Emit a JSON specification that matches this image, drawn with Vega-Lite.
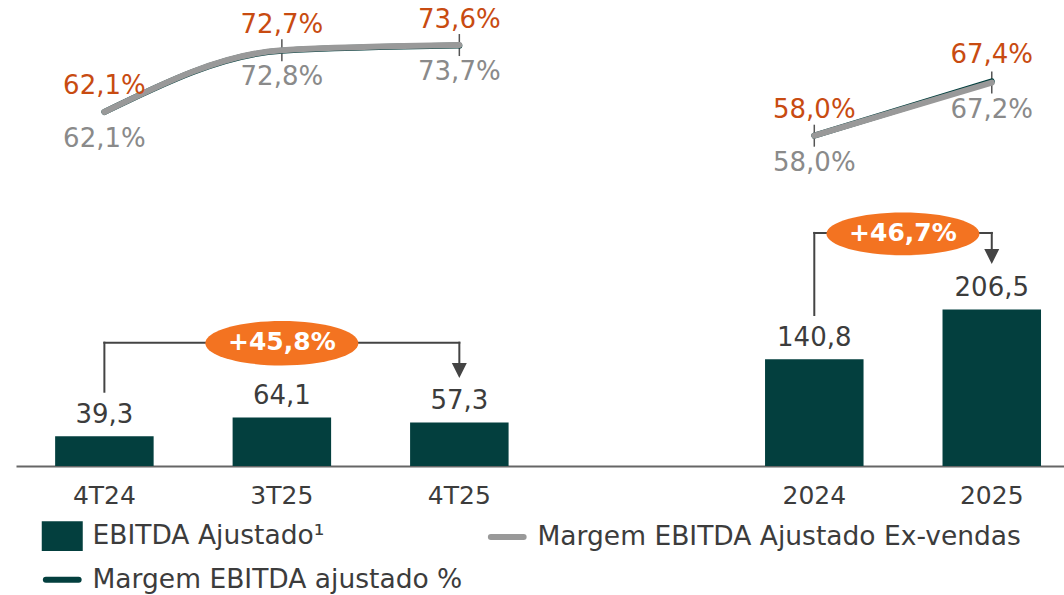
{
  "$schema": "https://vega.github.io/schema/vega-lite/v6.json",
  "width": 1048,
  "height": 466,
  "autosize": {"type": "none"},
  "padding": {"left": 16, "top": 0, "right": 0, "bottom": 129},
  "background": "white",
  "config": {
    "view": {"stroke": null},
    "font": "DejaVu Sans",
    "locale": {"number": {"decimal": ",", "thousands": ".", "grouping": [3], "currency": ["R$ ", ""]}}
  },
  "datasets": {
    "bars": [
      {"cat": "4T24", "series": "EBITDA Ajustado¹", "ebitda": 39.3},
      {"cat": "3T25", "series": "EBITDA Ajustado¹", "ebitda": 64.1},
      {"cat": "4T25", "series": "EBITDA Ajustado¹", "ebitda": 57.3},
      {"cat": "2024", "series": "EBITDA Ajustado¹", "ebitda": 140.8},
      {"cat": "2025", "series": "EBITDA Ajustado¹", "ebitda": 206.5}
    ],
    "margins": [
      {"cat": "4T24", "grp": "Q", "series": "Margem EBITDA ajustado %", "m": 0.621},
      {"cat": "3T25", "grp": "Q", "series": "Margem EBITDA ajustado %", "m": 0.727},
      {"cat": "4T25", "grp": "Q", "series": "Margem EBITDA ajustado %", "m": 0.736},
      {"cat": "2024", "grp": "A", "series": "Margem EBITDA ajustado %", "m": 0.580},
      {"cat": "2025", "grp": "A", "series": "Margem EBITDA ajustado %", "m": 0.674},
      {"cat": "4T24", "grp": "Q", "series": "Margem EBITDA Ajustado Ex-vendas", "m": 0.621},
      {"cat": "3T25", "grp": "Q", "series": "Margem EBITDA Ajustado Ex-vendas", "m": 0.728},
      {"cat": "4T25", "grp": "Q", "series": "Margem EBITDA Ajustado Ex-vendas", "m": 0.737},
      {"cat": "2024", "grp": "A", "series": "Margem EBITDA Ajustado Ex-vendas", "m": 0.580},
      {"cat": "2025", "grp": "A", "series": "Margem EBITDA Ajustado Ex-vendas", "m": 0.672}
    ],
    "brackets_v": [
      {"cat": "4T24", "y1": 98.0, "y2": 162.7},
      {"cat": "4T25", "y1": 162.7, "y2": 130},
      {"cat": "2024", "y1": 199.2, "y2": 307.5},
      {"cat": "2025", "y1": 307.5, "y2": 280}
    ],
    "brackets_h": [
      {"cat": "4T24", "cat2": "4T25", "y": 162.7},
      {"cat": "2024", "cat2": "2025", "y": 307.5}
    ],
    "arrows": [
      {"cat": "4T25", "y": 126.0},
      {"cat": "2025", "y": 276.4}
    ],
    "badges": [
      {"grp": "Q", "cat": "3T25", "y": 162.0, "label": "+45,8%"},
      {"grp": "A", "cat": "2024", "y": 306.3, "label": "+46,7%"}
    ]
  },
  "encoding": {
    "x": {
      "field": "cat",
      "type": "nominal",
      "title": null,
      "scale": {
        "domain": ["4T24", "3T25", "4T25", "gap", "2024", "2025"],
        "paddingInner": 0.445,
        "paddingOuter": 0.175,
        "align": 0.63
      },
      "axis": {
        "domainColor": "#666666",
        "domainWidth": 2,
        "ticks": false,
        "tickSize": 0,
        "grid": false,
        "labelPadding": 17.5,
        "labelFont": "DejaVu Sans",
        "labelFontSize": 25,
        "labelColor": "#3c3c3c",
        "labelAngle": 0,
        "labelExpr": "datum.value == 'gap' ? '' : datum.value"
      }
    }
  },
  "resolve": {"scale": {"y": "independent"}},
  "layer": [
    {
      "data": {"name": "bars"},
      "mark": {"type": "bar"},
      "encoding": {
        "y": {"field": "ebitda", "type": "quantitative", "scale": {"domain": [0, 614.8]}, "axis": null},
        "color": {
          "field": "series",
          "type": "nominal",
          "scale": {
            "domain": ["EBITDA Ajustado¹", "Margem EBITDA ajustado %", "Margem EBITDA Ajustado Ex-vendas"],
            "range": ["#033f3e", "#033f3e", "#999999"]
          },
          "legend": {
            "orient": "none",
            "legendX": 33,
            "legendY": 522.5,
            "columns": 2,
            "title": null,
            "padding": 0,
            "symbolSize": 1681,
            "symbolStrokeWidth": 0,
            "labelFont": "DejaVu Sans",
            "labelFontSize": 26.5,
            "labelColor": "#3c3c3c",
            "labelOffset": 17,
            "labelLimit": 700,
            "rowPadding": 15,
            "columnPadding": 15,
            "encode": {
              "symbols": {
                "update": {
                  "shape": {"signal": "datum.value === 'EBITDA Ajustado¹' ? 'M-1,-0.73L1,-0.73L1,0.73L-1,0.73Z' : 'M-0.8,0L0.8,0'"},
                  "fill": {"signal": "datum.value === 'EBITDA Ajustado¹' ? '#033f3e' : 'transparent'"},
                  "stroke": {"signal": "datum.value === 'Margem EBITDA Ajustado Ex-vendas' ? '#999999' : '#033f3e'"},
                  "strokeWidth": {"signal": "datum.value === 'EBITDA Ajustado¹' ? 0 : 6"},
                  "strokeCap": {"value": "round"},
                  "opacity": {"value": 1}
                }
              }
            }
          }
        }
      }
    },
    {
      "data": {"name": "bars"},
      "mark": {"type": "text", "dy": -21.5, "fontSize": 26, "color": "#3c3c3c", "baseline": "middle", "font": "DejaVu Sans"},
      "encoding": {
        "y": {"field": "ebitda", "type": "quantitative", "scale": {"domain": [0, 614.8]}, "axis": null},
        "text": {"field": "ebitda", "type": "quantitative", "format": ".1f"}
      }
    },
    {
      "data": {"name": "margins"},
      "transform": [{"filter": "datum.series === 'Margem EBITDA Ajustado Ex-vendas' && datum.cat !== '4T24'"}],
      "mark": {"type": "tick", "orient": "vertical", "size": 22, "thickness": 1.5, "color": "#555555", "opacity": 1},
      "encoding": {
        "y": {"field": "m", "type": "quantitative", "scale": {"domain": [0.008, 0.815]}, "axis": null}
      }
    },
    {
      "data": {"name": "margins"},
      "transform": [{"filter": "datum.series === 'Margem EBITDA ajustado %'"}],
      "mark": {"type": "line", "interpolate": "monotone", "strokeWidth": 6, "strokeCap": "round"},
      "encoding": {
        "y": {"field": "m", "type": "quantitative", "scale": {"domain": [0.008, 0.815]}, "axis": null},
        "color": {
          "field": "series",
          "type": "nominal",
          "scale": {
            "domain": ["EBITDA Ajustado¹", "Margem EBITDA ajustado %", "Margem EBITDA Ajustado Ex-vendas"],
            "range": ["#033f3e", "#033f3e", "#999999"]
          }
        },
        "detail": {"field": "grp", "type": "nominal"}
      }
    },
    {
      "data": {"name": "margins"},
      "transform": [{"filter": "datum.series === 'Margem EBITDA Ajustado Ex-vendas'"}],
      "mark": {"type": "line", "interpolate": "monotone", "strokeWidth": 6, "strokeCap": "round"},
      "encoding": {
        "y": {"field": "m", "type": "quantitative", "scale": {"domain": [0.008, 0.815]}, "axis": null},
        "color": {
          "field": "series",
          "type": "nominal",
          "scale": {
            "domain": ["EBITDA Ajustado¹", "Margem EBITDA ajustado %", "Margem EBITDA Ajustado Ex-vendas"],
            "range": ["#033f3e", "#033f3e", "#999999"]
          }
        },
        "detail": {"field": "grp", "type": "nominal"}
      }
    },
    {
      "data": {"name": "margins"},
      "transform": [{"filter": "datum.series === 'Margem EBITDA ajustado %'"}],
      "mark": {"type": "text", "dy": -26, "fontSize": 26, "color": "#c84b11", "baseline": "middle", "font": "DejaVu Sans"},
      "encoding": {
        "y": {"field": "m", "type": "quantitative", "scale": {"domain": [0.008, 0.815]}, "axis": null},
        "text": {"field": "m", "type": "quantitative", "format": ".1%"}
      }
    },
    {
      "data": {"name": "margins"},
      "transform": [{"filter": "datum.series === 'Margem EBITDA Ajustado Ex-vendas'"}],
      "mark": {"type": "text", "dy": 27, "fontSize": 26, "color": "#8a8a8a", "baseline": "middle", "font": "DejaVu Sans"},
      "encoding": {
        "y": {"field": "m", "type": "quantitative", "scale": {"domain": [0.008, 0.815]}, "axis": null},
        "text": {"field": "m", "type": "quantitative", "format": ".1%"}
      }
    },
    {
      "data": {"name": "brackets_v"},
      "mark": {"type": "rule", "color": "#444444", "strokeWidth": 2, "strokeCap": "square"},
      "encoding": {
        "y": {"field": "y1", "type": "quantitative", "scale": {"domain": [0, 614.8]}, "axis": null},
        "y2": {"field": "y2"}
      }
    },
    {
      "data": {"name": "brackets_h"},
      "mark": {"type": "rule", "color": "#444444", "strokeWidth": 2, "strokeCap": "square"},
      "encoding": {
        "x2": {"field": "cat2"},
        "y": {"field": "y", "type": "quantitative", "scale": {"domain": [0, 614.8]}, "axis": null}
      }
    },
    {
      "data": {"name": "arrows"},
      "mark": {"type": "point", "shape": "M-1,-1L1,-1L0,1Z", "size": 225, "filled": true, "color": "#444444", "opacity": 1, "strokeWidth": 0},
      "encoding": {
        "y": {"field": "y", "type": "quantitative", "scale": {"domain": [0, 614.8]}, "axis": null}
      }
    },
    {
      "data": {"name": "badges"},
      "transform": [{"filter": "datum.grp === 'Q'"}],
      "mark": {"type": "point", "shape": "M-1,0A1,0.29,0,1,1,1,0A1,0.29,0,1,1,-1,0Z", "size": 23409, "filled": true, "color": "#f37321", "opacity": 1, "strokeWidth": 0},
      "encoding": {
        "y": {"field": "y", "type": "quantitative", "scale": {"domain": [0, 614.8]}, "axis": null}
      }
    },
    {
      "data": {"name": "badges"},
      "transform": [{"filter": "datum.grp === 'A'"}],
      "mark": {"type": "point", "shape": "M-1,0A1,0.28,0,1,1,1,0A1,0.28,0,1,1,-1,0Z", "size": 23409, "filled": true, "color": "#f37321", "opacity": 1, "strokeWidth": 0},
      "encoding": {
        "x": {"field": "cat", "type": "nominal", "bandPosition": 1.4},
        "y": {"field": "y", "type": "quantitative", "scale": {"domain": [0, 614.8]}, "axis": null}
      }
    },
    {
      "data": {"name": "badges"},
      "transform": [{"filter": "datum.grp === 'Q'"}],
      "mark": {"type": "text", "fontSize": 25, "fontWeight": "bold", "color": "#ffffff", "baseline": "middle", "font": "DejaVu Sans", "dy": -1},
      "encoding": {
        "y": {"field": "y", "type": "quantitative", "scale": {"domain": [0, 614.8]}, "axis": null},
        "text": {"field": "label", "type": "nominal"}
      }
    },
    {
      "data": {"name": "badges"},
      "transform": [{"filter": "datum.grp === 'A'"}],
      "mark": {"type": "text", "fontSize": 25, "fontWeight": "bold", "color": "#ffffff", "baseline": "middle", "font": "DejaVu Sans", "dy": -1},
      "encoding": {
        "x": {"field": "cat", "type": "nominal", "bandPosition": 1.4},
        "y": {"field": "y", "type": "quantitative", "scale": {"domain": [0, 614.8]}, "axis": null},
        "text": {"field": "label", "type": "nominal"}
      }
    }
  ]
}
